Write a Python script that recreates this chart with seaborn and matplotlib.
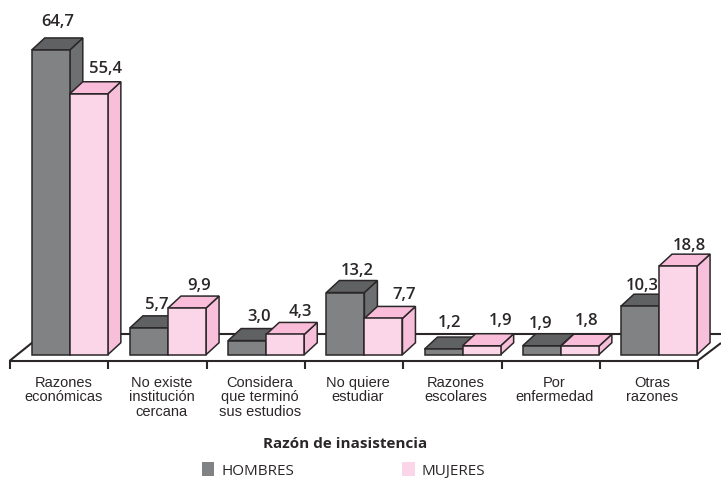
import pandas as pd
import matplotlib.pyplot as plt
import seaborn as sns
from matplotlib.patches import Polygon, Patch
from matplotlib.transforms import Affine2D

# Values
razones = ['Razones\neconómicas', 'No existe\ninstitución\ncercana',
           'Considera\nque terminó\nsus estudios', 'No quiere\nestudiar',
           'Razones\nescolares', 'Por\nenfermedad', 'Otras\nrazones']
hombres = [64.7, 5.7, 3.0, 13.2, 1.2, 1.9, 10.3]
mujeres = [55.4, 9.9, 4.3, 7.7, 1.9, 1.8, 18.8]

# Label nudges in pixels, from bar centre and back edge of the bar top
hombres_off = [(7, 16), (8, 11), (12, 12), (12, 10), (6, 14), (-1, 10), (2, 8)]
mujeres_off = [(17, 13), (12, 10), (15, 10), (21, 11), (19, 13), (7, 13), (11, 8)]

W, H = 721, 478
PX_CAT = 98.2   # pixels per category
PX_UNIT = 4.71  # pixels per percent
X0, Y0 = 69.8, 354.7
DEPTH_X, DEPTH_Y = 13, 12
INK = '#2b2728'

colores = {
    'HOMBRES': ('#808284', '#5f6163', '#6d6f71'),
    'MUJERES': ('#fbd5e8', '#f9bcd9', '#f8bfda'),
}

df = pd.DataFrame({
    'razon': razones * 2,
    'pct': hombres + mujeres,
    'sexo': ['HOMBRES'] * len(razones) + ['MUJERES'] * len(razones),
})

fig = plt.figure(figsize=(W / 100, H / 100), dpi=100)
ax = fig.add_axes([0, 0, 1, 1])

sns.barplot(data=df, x='razon', y='pct', hue='sexo', order=razones,
            palette={k: v[0] for k, v in colores.items()}, saturation=1,
            width=0.775, gap=0, edgecolor=INK, linewidth=1.1, legend=False, ax=ax)

ax.set_xlim(-X0 / PX_CAT, (W - X0) / PX_CAT)
ax.set_ylim((Y0 - H) / PX_UNIT, Y0 / PX_UNIT)
ax.axis('off')

# Floor of the fake 3D chart, in image pixels
px = Affine2D().scale(1, -1).translate(0, H)
floor = dict(color=INK, lw=1.5, transform=px, zorder=0.5, solid_capstyle='butt')
ax.plot([43, W], [334, 334], **floor)
ax.plot([10, 43], [360.5, 334], **floor)
ax.plot([10, 698], [360.5, 360.5], **floor)
ax.plot([698, W], [360.5, 343], **floor)
for i in range(len(razones) + 1):
    ax.plot([10 + 98.3 * i] * 2, [360, 369], **floor)

# Side and top faces built on each seaborn bar
dx = DEPTH_X / PX_CAT
dy = DEPTH_Y / PX_UNIT
z = 2
for container, sexo, offs in zip(ax.containers, ['HOMBRES', 'MUJERES'],
                                 [hombres_off, mujeres_off]):
    _, top_c, side_c = colores[sexo]
    for bar, (ox, oy) in zip(container, offs):
        x0, x1 = bar.get_x(), bar.get_x() + bar.get_width()
        h = bar.get_height()
        side = Polygon([(x1, 0), (x1 + dx, dy), (x1 + dx, h + dy), (x1, h)],
                       fc=side_c, ec=INK, lw=1.1, zorder=z)
        top = Polygon([(x0, h), (x0 + dx, h + dy), (x1 + dx, h + dy), (x1, h)],
                      fc=top_c, ec=INK, lw=1.1, zorder=z)
        ax.add_patch(side)
        ax.add_patch(top)
        bar.set_zorder(z + 0.1)
        z += 0.2
        ax.annotate(f'{h:.1f}'.replace('.', ','), ((x0 + x1) / 2, h + dy),
                    xytext=(ox, oy), textcoords='offset pixels',
                    ha='center', va='center', fontsize=12, fontweight='semibold',
                    family='Open Sans', color=INK, zorder=50)

# Category labels
for i, r in enumerate(razones):
    ax.text(i - 6.5 / PX_CAT, (Y0 - 376) / PX_UNIT, r, ha='center', va='top',
            fontsize=10.5, family='Liberation Sans', color=INK, linespacing=1.03)

ax.text((345 - X0) / PX_CAT, (Y0 - 444) / PX_UNIT, 'Razón de inasistencia',
        ha='center', va='center', fontsize=11, fontweight='bold',
        family='Open Sans', color=INK)

handles = [Patch(fc=colores[k][0], label=k) for k in colores]
ax.legend(handles=handles, ncol=2, frameon=False, loc='center left',
          bbox_to_anchor=(202 / W, 1 - 470.5 / H), borderpad=0, borderaxespad=0,
          handlelength=0.8, handleheight=1.0, handletextpad=0.45, columnspacing=7.1,
          prop={'family': 'Open Sans', 'size': 11}, labelcolor=INK)

fig.savefig('out.png', dpi=100)
